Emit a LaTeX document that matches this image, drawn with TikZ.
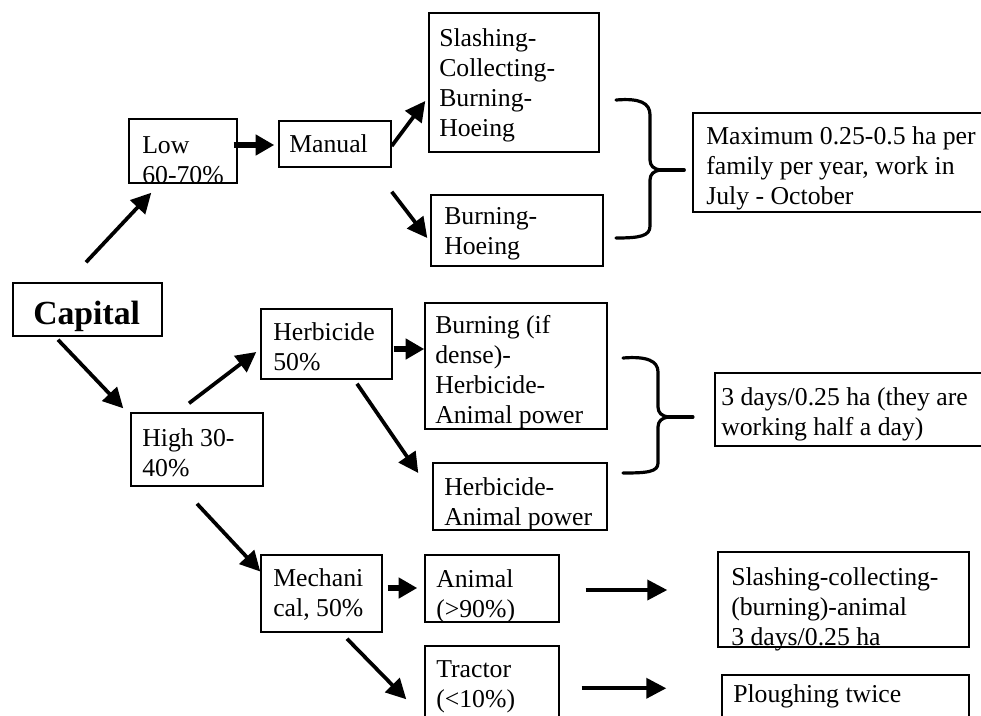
\documentclass[tikz,border=0pt]{standalone}
\usepackage{fontspec}
\setmainfont{Liberation Serif}
\usetikzlibrary{arrows.meta,fit}
\tikzset{
  box/.style={draw, line width=1.1pt, inner sep=0pt},
  txt/.style={anchor=north west, inner sep=0pt, yshift=16pt, align=left,
              font=\fontsize{19.3}{22.5}\selectfont},
  arr/.style={line width=2.8pt, -{Triangle[length=15pt,width=15pt]}},
  fatarr/.style={line width=4pt, -{Triangle[length=14pt,width=15pt]}},
  brace/.style={line width=2.4pt, line join=round, line cap=round}
}
\newcommand{\fl}{\rule{0pt}{16pt}}
\begin{document}
\begin{tikzpicture}[x=0.75pt,y=-0.75pt]
\useasboundingbox (0,0) rectangle (981,715);
\clip (0,0) rectangle (981,715);
% boxes
\node[box, fit={(13,283) (162,336)}] (cap) {};
\node[box, fit={(129,119) (237,183)}] (low) {};
\node[box, fit={(279,121) (391,167)}] (man) {};
\node[box, fit={(429,13) (599,152)}] (sl1) {};
\node[box, fit={(431,195) (603,266)}] (bh) {};
\node[box, fit={(693,113) (995,212)}] (max) {};
\node[box, fit={(261,309) (392,379)}] (herb) {};
\node[box, fit={(131,413) (263,486)}] (high) {};
\node[box, fit={(425,303) (607,429)}] (bid) {};
\node[box, fit={(433,463) (607,530)}] (ha) {};
\node[box, fit={(715,373) (995,446)}] (three) {};
\node[box, fit={(261,555) (382,632)}] (mech) {};
\node[box, fit={(425,555) (559,622)}] (ani) {};
\node[box, fit={(718,552) (969,647)}] (sc) {};
\node[box, fit={(425,646) (559,730)}] (trac) {};
\node[box, fit={(722,675) (969,730)}] (plo) {};
% texts
\node[anchor=base west, inner sep=0pt, font=\fontsize{25.3}{30}\selectfont\bfseries] (tcap) at (33,324) {Capital};
\node[txt] (tlow) at (142,153) {\fl Low\\60-70\%};
\node[txt] (tman) at (289,152) {\fl Manual};
\node[txt] (tsl1) at (439,46) {\fl Slashing-\\Collecting-\\Burning-\\Hoeing};
\node[txt] (tbh) at (444,224) {\fl Burning-\\Hoeing};
\node[txt] (tmax) at (706,144) {\fl Maximum 0.25-0.5 ha per\\family per year, work in\\July - October};
\node[txt] (therb) at (273,340) {\fl Herbicide\\50\%};
\node[txt] (thigh) at (142,446) {\fl High 30-\\40\%};
\node[txt] (tbid) at (435,333) {\fl Burning (if\\dense)-\\Herbicide-\\Animal power};
\node[txt] (tha) at (444,495) {\fl Herbicide-\\Animal power};
\node[txt] (tthree) at (721,405) {\fl 3 days/0.25 ha (they are\\working half a day)};
\node[txt] (tmech) at (273,586) {\fl Mechani\\cal, 50\%};
\node[txt] (tani) at (436,587) {\fl Animal\\(>90\%)};
\node[txt] (tsc) at (731,585) {\fl Slashing-collecting-\\(burning)-animal\\3 days/0.25 ha};
\node[txt] (ttrac) at (436,677) {\fl Tractor\\(<10\%)};
\node[txt] (tplo) at (733,702) {\fl Ploughing twice};
% arrows
\draw[arr] ([shift={(-1.5,-20)}]cap.north) -- ([shift={(23,9)}]low.south west);
\draw[fatarr] ([shift={(-4,-6)}]low.east) -- ([shift={(-4,1)}]man.west);
\draw[arr] ([shift={(0,2)}]man.east) -- ([shift={(-3,18.5)}]sl1.west);
\draw[arr] ([shift={(0,24)}]man.south east) -- ([shift={(-3,7.5)}]bh.west);
\draw[arr] ([shift={(-29.5,3)}]cap.south) -- ([shift={(-7,-4)}]high.north west);
\draw[arr] ([shift={(-8,-9)}]high.north) -- ([shift={(-4,8)}]herb.west);
\draw[arr] ([shift={(0,17)}]high.south) -- ([shift={(0,-22)}]mech.west);
\draw[fatarr] ([shift={(1,5)}]herb.east) -- ([shift={(0,-17)}]bid.west);
\draw[arr] ([shift={(30.5,4)}]herb.south) -- ([shift={(-14,-23.5)}]ha.west);
\draw[fatarr] ([shift={(5,-5.5)}]mech.east) -- ([shift={(-7,-0.5)}]ani.west);
\draw[arr] ([shift={(26,1.5)}]ani.east) -- ([shift={(-50,-9.5)}]sc.west);
\draw[arr] ([shift={(25.5,6)}]mech.south) -- ([shift={(-18,54)}]trac.north west);
\draw[arr] ([shift={(22,43)}]trac.north east) -- ([shift={(-55,14)}]plo.north west);
% braces
\draw[brace] (616,100) .. controls (640,98) and (650,103) .. (650,115) -- (650,160)
  .. controls (650,166) and (654,169) .. (660,170)
  .. controls (654,171) and (650,174) .. (650,180) -- (650,226)
  .. controls (650,236) and (640,238) .. (616,238);
\draw[brace] (658,170) -- ([xshift=-6pt]max.west |- 0,170);
\draw[brace] (623,358) .. controls (647,356) and (658,361) .. (658,372) -- (658,407)
  .. controls (658,413) and (662,416) .. (668,417)
  .. controls (662,418) and (658,421) .. (658,427) -- (658,463)
  .. controls (658,472) and (647,473) .. (623,473);
\draw[brace] (666,417) -- ([xshift=-16pt]three.west |- 0,417);
\end{tikzpicture}
\end{document}
